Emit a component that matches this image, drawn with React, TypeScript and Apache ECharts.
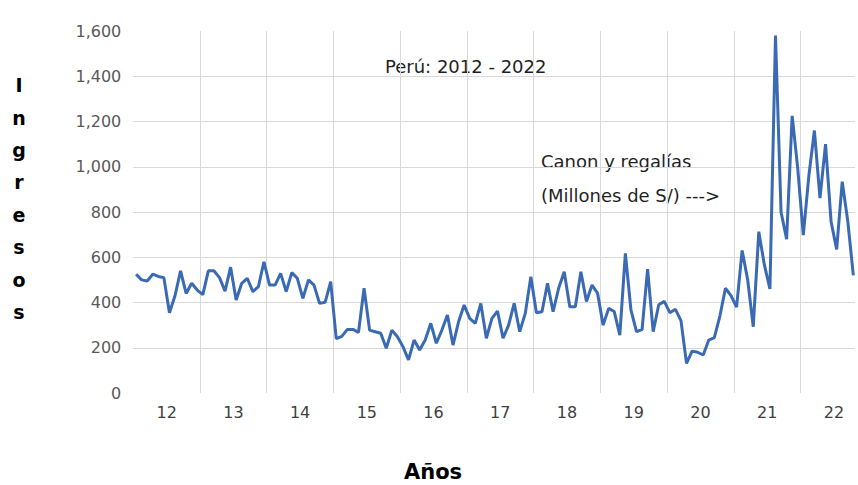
import React, { useEffect, useRef } from "react";
import * as echarts from "echarts";

// Year tick labels (2012 .. 2022)
const yearLabels = ["12", "13", "14", "15", "16", "17", "18", "19", "20", "21", "22"];

// Monthly "Canon y regalías" (Millones de S/), Jan 2012 .. Oct 2022
const ingresos2012 = [525, 500, 495, 525, 515, 510, 355, 430, 540, 440, 485, 455];
const ingresos2013 = [435, 540, 540, 510, 450, 556, 411, 485, 507, 448, 470, 580];
const ingresos2014 = [477, 477, 529, 448, 532, 507, 418, 500, 477, 396, 401, 492];
const ingresos2015 = [240, 250, 281, 281, 268, 463, 278, 271, 264, 198, 278, 249];
const ingresos2016 = [205, 146, 234, 190, 234, 308, 220, 278, 345, 212, 315, 389];
const ingresos2017 = [330, 308, 396, 242, 330, 362, 242, 300, 396, 271, 352, 514];
const ingresos2018 = [355, 359, 485, 359, 463, 536, 381, 381, 536, 404, 477, 441];
const ingresos2019 = [300, 374, 360, 256, 617, 367, 271, 280, 548, 271, 390, 405];
const ingresos2020 = [355, 370, 320, 131, 185, 180, 168, 234, 245, 340, 463, 430];
const ingresos2021 = [380, 630, 500, 293, 713, 566, 460, 1580, 800, 680, 1225, 993];
const ingresos2022 = [698, 960, 1160, 861, 1100, 757, 635, 934, 760, 520];

const monthlyIngresos = [
  ...ingresos2012, ...ingresos2013, ...ingresos2014, ...ingresos2015,
  ...ingresos2016, ...ingresos2017, ...ingresos2018, ...ingresos2019,
  ...ingresos2020, ...ingresos2021, ...ingresos2022,
];

const FONT = "DejaVu Sans";
const GRID = "#d9d9d9";
const CLEAR = "rgba(0,0,0,0)";

export default function App() {
  const ref = useRef<HTMLDivElement>(null);

  useEffect(() => {
    if (!ref.current) return;
    const chart = echarts.init(ref.current, null, { renderer: "svg" });
    const seriesData = monthlyIngresos.map((v, i) => [i + 0.5, v]);
    const xMax = 129.8;

    const vColors = [CLEAR, GRID, GRID, GRID, GRID, GRID, GRID, GRID, GRID, GRID, GRID, CLEAR];
    const hColors = [CLEAR, GRID, GRID, GRID, GRID, GRID, GRID, GRID, CLEAR];

    chart.setOption({
      animation: false,
      backgroundColor: "#ffffff",
      grid: { left: 133.3, right: 0, top: 31, bottom: 92, containLabel: false },
      xAxis: [
        {
          type: "value",
          min: 0,
          max: xMax,
          interval: 12,
          axisLine: { show: false },
          axisTick: { show: false },
          axisLabel: { show: false },
          splitLine: { show: true, lineStyle: { color: vColors, width: 1 } },
        },
        {
          type: "value",
          min: 0,
          max: xMax,
          interval: 6,
          position: "bottom",
          axisLine: { show: false },
          axisTick: { show: false },
          splitLine: { show: false },
          axisLabel: {
            show: true,
            margin: 11,
            color: "#404040",
            fontSize: 16,
            fontFamily: FONT,
            showMinLabel: true,
            showMaxLabel: true,
            formatter: (v: number) => {
              const k = (v - 6) / 12;
              const r = Math.round(k);
              if (Math.abs(k - r) < 1e-6 && r >= 0 && r < yearLabels.length) return yearLabels[r];
              return "";
            },
          },
        },
      ],
      yAxis: {
        type: "value",
        min: 0,
        max: 1600,
        interval: 200,
        axisLine: { show: false },
        axisTick: { show: false },
        axisLabel: {
          margin: 12,
          color: "#595959",
          fontSize: 16,
          fontFamily: FONT,
          formatter: (v: number) => v.toLocaleString("en-US"),
        },
        splitLine: { show: true, lineStyle: { color: hColors, width: 1 } },
      },
      series: [
        {
          type: "line",
          xAxisIndex: 0,
          data: seriesData,
          showSymbol: false,
          symbol: "none",
          smooth: false,
          lineStyle: { color: "#3a6ab4", width: 3 },
        },
      ],
      graphic: [
        {
          type: "text",
          left: 385,
          top: 57,
          style: { text: "Perú: 2012 - 2022", fontSize: 18, fontFamily: FONT, fill: "#1f1f1f" },
        },
        {
          type: "text",
          left: 541,
          top: 152,
          style: { text: "Canon y regalías", fontSize: 18, fontFamily: FONT, fill: "#1f1f1f" },
        },
        {
          type: "text",
          left: 541,
          top: 186,
          style: { text: "(Millones de S/) --->", fontSize: 18, fontFamily: FONT, fill: "#1f1f1f" },
        },
        {
          type: "text",
          x: 19,
          y: 69,
          style: {
            text: "I\nn\ng\nr\ne\ns\no\ns",
            fontSize: 19,
            fontWeight: "bold",
            fontFamily: FONT,
            fill: "#000000",
            align: "center",
            verticalAlign: "top",
            lineHeight: 32.4,
          },
        },
        {
          type: "text",
          x: 433,
          y: 472,
          style: {
            text: "Años",
            fontSize: 21,
            fontWeight: "bold",
            fontFamily: FONT,
            fill: "#000000",
            align: "center",
            verticalAlign: "middle",
          },
        },
      ],
    });

    return () => chart.dispose();
  }, []);

  return (
    <div
      ref={ref}
      style={{ position: "fixed", left: 0, top: 0, width: 858, height: 485 }}
    />
  );
}
